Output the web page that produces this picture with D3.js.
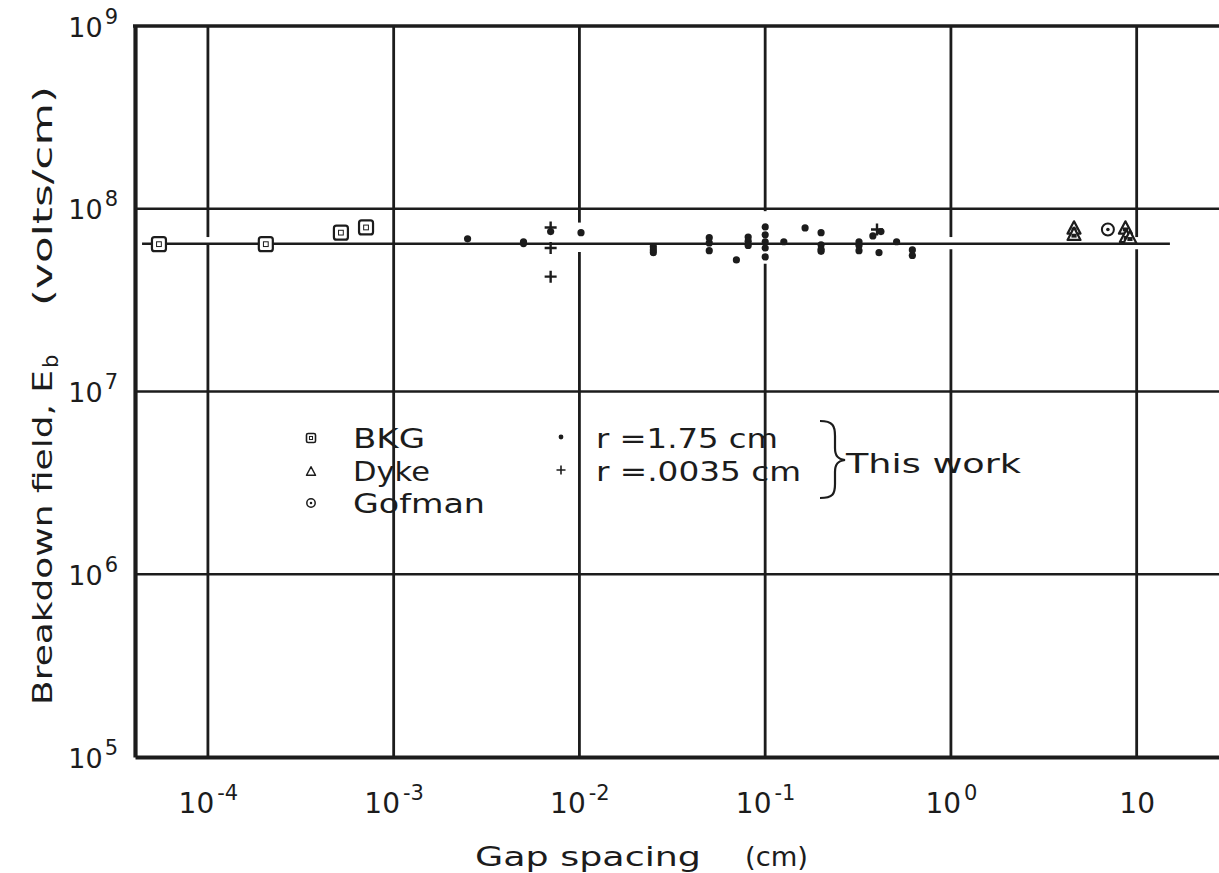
<!DOCTYPE html>
<html><head><meta charset="utf-8">
<script src="https://cdn.jsdelivr.net/npm/d3@7"></script>
<style>
body{margin:0;background:#fff}
svg{display:block}
text{font-family:"DejaVu Sans",sans-serif;fill:#1c1c1c}
</style>
</head><body>
<svg id="chart" width="1219" height="873"></svg>
<script>
// ---------- data ----------
const xTicks = [1e-4, 1e-3, 1e-2, 1e-1, 1, 10];
const xTickBase = ["10", "10", "10", "10", "10", "10"];
const xTickExp = ["-4", "-3", "-2", "-1", "0", ""];
const yTicks = [1e5, 1e6, 1e7, 1e8, 1e9];
const yTickBase = ["10", "10", "10", "10", "10"];
const yTickExp = ["5", "6", "7", "8", "9"];

// BKG (squares)
const bkgX = [5.45e-5, 2.05e-4, 5.2e-4, 7.1e-4];
const bkgY = [6.4e7, 6.4e7, 7.4e7, 7.9e7];
// Dyke (triangles)
const dykeX = [4.6, 4.6, 8.7, 8.8, 9.2];
const dykeY = [7.9e7, 7.3e7, 7.9e7, 7.1e7, 7.0e7];
// Gofman (circles)
const gofmanX = [7.0];
const gofmanY = [7.7e7];
// This work, r = 1.75 cm (dots)
const dotX = [2.5e-3, 5.0e-3, 5.0e-3, 7.0e-3, 1.02e-2,
  2.5e-2, 2.5e-2, 2.5e-2, 5.0e-2, 5.0e-2, 5.0e-2, 7.0e-2,
  8.1e-2, 8.1e-2, 8.1e-2, 0.1, 0.1, 0.1, 0.1, 0.1,
  0.126, 0.164, 0.2, 0.2, 0.2, 0.2, 0.32, 0.32, 0.32,
  0.38, 0.41, 0.42, 0.51, 0.62, 0.62];
const dotY = [6.85e7, 6.6e7, 6.45e7, 7.5e7, 7.4e7,
  6.2e7, 5.95e7, 5.75e7, 6.95e7, 6.5e7, 5.9e7, 5.25e7,
  7.0e7, 6.65e7, 6.3e7, 7.95e7, 7.2e7, 6.6e7, 6.1e7, 5.45e7,
  6.6e7, 7.85e7, 7.4e7, 6.35e7, 6.0e7, 5.85e7, 6.6e7, 6.3e7, 5.9e7,
  7.1e7, 5.75e7, 7.5e7, 6.6e7, 5.95e7, 5.55e7];
// This work, r = .0035 cm (plus)
const plusX = [7.0e-3, 7.0e-3, 7.0e-3, 0.40];
const plusY = [7.9e7, 6.1e7, 4.25e7, 7.7e7];
// fitted constant line
const fitX = [4.42e-5, 15.1];
const fitY = [6.43e7, 6.43e7];
// breaks in vertical grid lines (where the data band crosses)
const gapX = [1e-4, 1e-2, 1e-1, 1, 10];
const gapLo = [6.5e7, 5.8e7, 5.0e7, 6.0e7, 6.0e7];
const gapHi = [7.0e7, 8.4e7, 9.7e7, 7.0e7, 7.0e7];

// ---------- scales ----------
const svg = d3.select("#chart");
const L = 135, R = 1222, T = 26, B = 757;
const x = d3.scaleLog().domain([4.05e-5, 28.8]).range([L, R]);
const y = d3.scaleLog().domain([1e5, 1e9]).range([B, T]);
const ink = "#1c1c1c";

// ---------- grid ----------
const grid = svg.append("g").attr("stroke", ink).attr("fill", "none");
yTicks.filter(v => v > 1e5 && v < 1e9).forEach(v => {
  grid.append("line").attr("x1", L).attr("x2", R).attr("y1", y(v)).attr("y2", y(v))
    .attr("stroke-width", 2.6);
});
xTicks.forEach(v => {
  const gi = gapX.indexOf(v);
  const segs = gi < 0 ? [[1e5, 1e9]] : [[1e5, gapLo[gi]], [gapHi[gi], 1e9]];
  segs.forEach(s => grid.append("line").attr("x1", x(v)).attr("x2", x(v))
    .attr("y1", y(s[0])).attr("y2", y(s[1])).attr("stroke-width", 2.8));
});

// ---------- axes ----------
const xAxis = d3.axisBottom(x).tickValues(xTicks).tickSize(0).tickSizeOuter(0)
  .tickPadding(0).tickFormat(() => "");
const gx = svg.append("g").attr("transform", `translate(0,${B})`).call(xAxis);
gx.select(".domain").attr("stroke", ink).attr("stroke-width", 4.2);
gx.selectAll(".tick text").remove();
gx.selectAll(".tick").each(function (d, i) {
  const t = d3.select(this).append("text").attr("y", 56).attr("text-anchor", "middle")
    .attr("fill", ink).attr("font-family", '"DejaVu Sans",sans-serif');
  t.append("tspan").attr("font-size", 28).text(xTickBase[i]);
  if (xTickExp[i]) t.append("tspan").attr("font-size", 21).attr("dy", -13).attr("dx", 3).text(xTickExp[i]);
});

const yAxis = d3.axisLeft(y).tickValues(yTicks).tickSize(0).tickSizeOuter(0)
  .tickPadding(0).tickFormat(() => "");
const gy = svg.append("g").attr("transform", `translate(${L},0)`).call(yAxis);
gy.select(".domain").attr("stroke", ink).attr("stroke-width", 4.2);
gy.selectAll(".tick text").remove();
gy.selectAll(".tick").each(function (d, i) {
  const t = d3.select(this).append("text").attr("x", -17).attr("y", 10).attr("text-anchor", "end")
    .attr("fill", ink).attr("font-family", '"DejaVu Sans",sans-serif');
  t.append("tspan").attr("font-size", 27).text(yTickBase[i]);
  t.append("tspan").attr("font-size", 21).attr("dy", -13).attr("dx", 2).text(yTickExp[i]);
});
svg.append("line").attr("x1", L - 2).attr("x2", R).attr("y1", T).attr("y2", T)
  .attr("stroke", ink).attr("stroke-width", 3.6);

// ---------- fit line ----------
svg.append("line").attr("x1", x(fitX[0])).attr("x2", x(fitX[1]))
  .attr("y1", y(fitY[0])).attr("y2", y(fitY[1])).attr("stroke", ink).attr("stroke-width", 2.6);

// ---------- markers ----------
function square(g, cx, cy, s) {
  g.append("rect").attr("x", cx - s / 2).attr("y", cy - s / 2).attr("width", s).attr("height", s)
    .attr("rx", s * 0.18).attr("fill", "#fff").attr("stroke", ink).attr("stroke-width", s > 10 ? 2.2 : 1.6);
  g.append("rect").attr("x", cx - s * 0.17).attr("y", cy - s * 0.17).attr("width", s * 0.34).attr("height", s * 0.34)
    .attr("fill", "none").attr("stroke", ink).attr("stroke-width", 1);
}
function triangle(g, cx, cy, s) {
  const h = s * 0.95;
  g.append("path").attr("d", `M${cx},${cy - h / 2}L${cx + s / 2},${cy + h / 2}L${cx - s / 2},${cy + h / 2}Z`)
    .attr("fill", "#fff").attr("stroke", ink).attr("stroke-width", s > 10 ? 2.2 : 1.5).attr("stroke-linejoin", "round");
  if (s > 10) g.append("rect").attr("x", cx - s * 0.2).attr("y", cy).attr("width", s * 0.4).attr("height", s * 0.3)
    .attr("fill", ink);
}
function ring(g, cx, cy, r) {
  g.append("circle").attr("cx", cx).attr("cy", cy).attr("r", r).attr("fill", "#fff")
    .attr("stroke", ink).attr("stroke-width", r > 5 ? 2 : 1.5);
  g.append("circle").attr("cx", cx).attr("cy", cy).attr("r", r * 0.3).attr("fill", ink);
}
function dot(g, cx, cy, r) {
  g.append("circle").attr("cx", cx).attr("cy", cy).attr("r", r).attr("fill", ink);
}
function plus(g, cx, cy, s, w) {
  g.append("path").attr("d", `M${cx - s / 2},${cy}H${cx + s / 2}M${cx},${cy - s / 2}V${cy + s / 2}`)
    .attr("stroke", ink).attr("stroke-width", w);
}

const marks = svg.append("g");
bkgX.forEach((v, i) => square(marks, x(v), y(bkgY[i]), 14));
dykeX.forEach((v, i) => triangle(marks, x(v), y(dykeY[i]), 13));
gofmanX.forEach((v, i) => ring(marks, x(v), y(gofmanY[i]), 6));
dotX.forEach((v, i) => dot(marks, x(v), y(dotY[i]), 3.6));
plusX.forEach((v, i) => plus(marks, x(v), y(plusY[i]), 12, 2.4));

// ---------- legend ----------
const lg = svg.append("g");
const legFont = 27;
square(lg, 311, 438, 9);
triangle(lg, 311, 471, 9);
ring(lg, 311, 503, 4.2);
dot(lg, 561, 437, 2.4);
plus(lg, 561, 470, 9, 1.6);
function ltext(str, tx, ty, len) {
  lg.append("text").attr("x", tx).attr("y", ty).attr("font-size", legFont)
    .attr("textLength", len).attr("lengthAdjust", "spacingAndGlyphs").text(str);
}
ltext("BKG", 353, 448, 72);
ltext("Dyke", 353, 481, 77);
ltext("Gofman", 353, 513, 132);
ltext("r =1.75 cm", 596, 448, 182);
ltext("r =.0035 cm", 596, 481, 205);
ltext("This work", 846, 473, 175);
lg.append("path")
  .attr("d", "M820,421 C833,421 835,426 835,436 L835,448 C835,456 838,459 845,460 C838,461 835,464 835,472 L835,484 C835,494 833,498 820,498")
  .attr("fill", "none").attr("stroke", ink).attr("stroke-width", 2.2);

// ---------- axis titles ----------
svg.append("text").attr("x", 475).attr("y", 866).attr("font-size", 27)
  .attr("textLength", 226).attr("lengthAdjust", "spacingAndGlyphs").text("Gap spacing");
svg.append("text").attr("x", 745).attr("y", 866).attr("font-size", 27)
  .attr("textLength", 63).attr("lengthAdjust", "spacingAndGlyphs").text("(cm)");

const yt1 = svg.append("text").attr("transform", "translate(52,705) rotate(-90)").attr("font-size", 27);
yt1.append("tspan").attr("textLength", 335).attr("lengthAdjust", "spacingAndGlyphs").text("Breakdown field, E");
yt1.append("tspan").attr("font-size", 21).attr("dy", 6).attr("dx", 2).text("b");
svg.append("text").attr("transform", "translate(52,306) rotate(-90)").attr("font-size", 27)
  .attr("textLength", 220).attr("lengthAdjust", "spacingAndGlyphs").text("(volts/cm)");
</script>
</body></html>
